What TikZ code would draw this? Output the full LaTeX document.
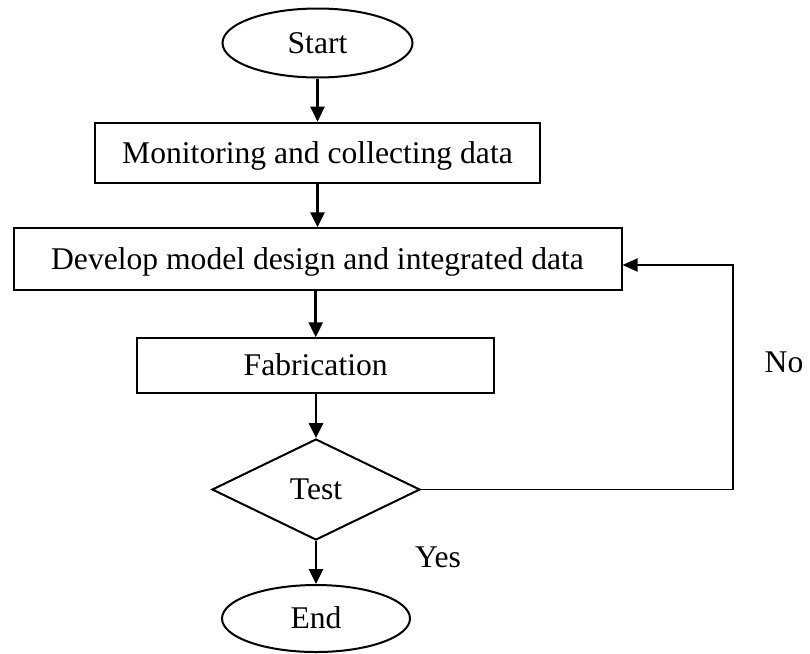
\documentclass[tikz,border=0pt]{standalone}
\usepackage{fontspec}
\setmainfont{Liberation Serif}
\usetikzlibrary{shapes.geometric,arrows.meta}
\begin{document}
\begin{tikzpicture}[x=1pt,y=-1pt,
  every node/.style={font=\fontsize{31.6}{38}\selectfont, inner sep=0pt, text height=20.9pt, text depth=0pt},
  terminal/.style={draw, line width=2pt, ellipse},
  stepbox/.style={draw, line width=2pt, rectangle},
  decision/.style={draw, line width=2pt, diamond},
  flow/.style={line width=2.6pt, -{Triangle[length=15pt,width=14pt]}},
  back/.style={line width=1.9pt, -{Triangle[length=15pt,width=13pt]}},
  plain/.style={font=\fontsize{31.6}{38}\selectfont}
]
\useasboundingbox (0,0) rectangle (810,653);

\node[terminal, minimum width=190pt, minimum height=69pt] (start) at (317.5,43) {Start};
\node[stepbox, minimum width=445pt, minimum height=60pt] (mon) at (317.5,152.7) {Monitoring and collecting data};
\node[stepbox, minimum width=608pt, minimum height=61.7pt] (dev) at (317.5,259.2) {Develop model design and integrated data};
\node[stepbox, minimum width=356.7pt, minimum height=54.2pt] (fab) at (315.7,365.4) {Fabrication};
\node[decision, minimum width=208pt, minimum height=101pt] (test) at (316,489.5) {Test};
\node[terminal, minimum width=188pt, minimum height=67pt] (end) at (316,618.5) {End};

\node[plain] (no) at (784,362) {No};
\node[plain] (yes) at (438,557) {Yes};

\coordinate (fb) at (733.3,265);

\draw[flow] (start.south) -- (mon.north);
\draw[flow] (mon.south) -- (dev.north);
\draw[flow] (dev.south -| fab.north) -- (fab.north);
\draw[flow] (fab.south -| test.north) -- (test.north);
\draw[flow] (test.south) -- (end.north);
\draw[back] (test.east) -| (fb) -- (dev.east |- fb);
\end{tikzpicture}
\end{document}
